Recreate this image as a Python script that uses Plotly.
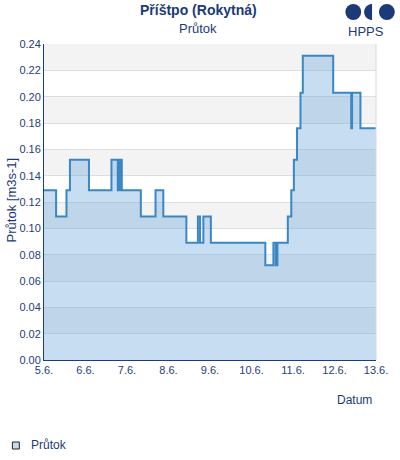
import numpy as np
import plotly.graph_objects as go

# ---- data ----
times = [
    "2024-06-05 00:00", "2024-06-05 07:00", "2024-06-05 13:00", "2024-06-05 15:00",
    "2024-06-06 02:00", "2024-06-06 15:00", "2024-06-06 18:40", "2024-06-06 19:50",
    "2024-06-06 21:00", "2024-06-07 08:00", "2024-06-07 16:30", "2024-06-07 21:00",
    "2024-06-08 10:20", "2024-06-08 17:00", "2024-06-08 18:15", "2024-06-08 20:10",
    "2024-06-09 00:30", "2024-06-10 08:00", "2024-06-10 12:40", "2024-06-10 14:00",
    "2024-06-10 15:00", "2024-06-10 21:00", "2024-06-10 23:00", "2024-06-11 00:30",
    "2024-06-11 02:20", "2024-06-11 04:20", "2024-06-11 05:40", "2024-06-11 23:15",
    "2024-06-12 09:40", "2024-06-12 10:10", "2024-06-12 15:00", "2024-06-13 19:00",
]
flow = [
    0.129, 0.109, 0.129, 0.152,
    0.129, 0.152, 0.129, 0.152,
    0.129, 0.109, 0.129, 0.109,
    0.089, 0.109, 0.089, 0.109,
    0.089, 0.072, 0.089, 0.072,
    0.089, 0.109, 0.129, 0.152,
    0.176, 0.203, 0.231, 0.203,
    0.176, 0.203, 0.176, 0.176,
]
tick_dates = ["2024-06-05", "2024-06-06", "2024-06-07", "2024-06-08", "2024-06-09",
              "2024-06-10", "2024-06-11", "2024-06-12", "2024-06-13"]
tick_labels = ["5.6.", "6.6.", "7.6.", "8.6.", "9.6.", "10.6.", "11.6.", "12.6.", "13.6."]
y_ticks = [0.00, 0.02, 0.04, 0.06, 0.08, 0.10, 0.12, 0.14, 0.16, 0.18, 0.20, 0.22, 0.24]

W, H = 400, 460
L, R, T, B = 44, 20, 44, 100
PW, PH = W - L - R, H - T - B

def px(x):
    return (x - L) / PW

def py(y):
    return (H - B - y) / PH

FONT = "Liberation Sans, Arial, sans-serif"
DARK = "#1c3a78"
TICK = "#25407e"

fig = go.Figure()
fig.add_trace(go.Scatter(
    x=times, y=flow, mode="lines", line_shape="hv",
    line=dict(color="#3a87c4", width=2),
    fill="tozeroy", fillcolor="rgba(100,160,220,0.36)",
    name="Průtok", showlegend=False, hoverinfo="skip",
))

shapes = []
# alternate bands
for i in range(1, 12, 2):
    shapes.append(dict(type="rect", xref="paper", yref="y", x0=0, x1=1,
                       y0=y_ticks[i], y1=y_ticks[i + 1],
                       fillcolor="#f3f3f3", line_width=0, layer="below"))
# right border
shapes.append(dict(type="line", xref="paper", yref="paper", x0=1, x1=1, y0=0, y1=1,
                   line=dict(color="#d8d8d8", width=1)))
# logo
shapes.append(dict(type="circle", xref="paper", yref="paper",
                   x0=px(349), x1=px(365), y0=py(20), y1=py(4),
                   fillcolor=DARK, line_width=0))
shapes.append(dict(type="circle", xref="paper", yref="paper",
                   x0=px(383), x1=px(399), y0=py(20), y1=py(4),
                   fillcolor=DARK, line_width=0))
ang = np.linspace(np.pi / 2, 3 * np.pi / 2, 20)
cx, cy, r = 376, 12, 8
pts = [(px(cx + r * np.cos(a)), py(cy - r * np.sin(a))) for a in ang]
path = "M " + " L ".join(f"{a:.5f},{b:.5f}" for a, b in pts) + " Z"
shapes.append(dict(type="path", xref="paper", yref="paper", path=path,
                   fillcolor=DARK, line_width=0))
# legend symbol
shapes.append(dict(type="rect", xref="paper", yref="paper",
                   x0=px(12), x1=px(19), y0=py(449), y1=py(442),
                   fillcolor="#c6ddf1", line=dict(color="#222222", width=1)))

annotations = [
    dict(text="<b>Příštpo (Rokytná)</b>", x=px(200), y=py(10), xref="paper", yref="paper",
         showarrow=False, font=dict(family=FONT, size=14, color=DARK),
         xanchor="center", yanchor="middle"),
    dict(text="Průtok", x=px(200), y=py(29), xref="paper", yref="paper",
         showarrow=False, font=dict(family=FONT, size=13, color=DARK),
         xanchor="center", yanchor="middle"),
    dict(text="HPPS", x=px(370), y=py(31), xref="paper", yref="paper",
         showarrow=False, font=dict(family=FONT, size=13, color=DARK),
         xanchor="center", yanchor="middle"),
    dict(text="Datum", x=px(378), y=py(400), xref="paper", yref="paper",
         showarrow=False, font=dict(family=FONT, size=12, color=DARK),
         xanchor="right", yanchor="middle"),
    dict(text="Průtok [m3s-1]", x=px(11), y=py(200), xref="paper", yref="paper",
         showarrow=False, textangle=-90, font=dict(family=FONT, size=13, color=DARK),
         xanchor="center", yanchor="middle"),
    dict(text="Průtok", x=px(29), y=py(445), xref="paper", yref="paper",
         showarrow=False, font=dict(family=FONT, size=12, color=DARK),
         xanchor="left", yanchor="middle"),
]

fig.update_layout(
    width=W, height=H,
    margin=dict(l=L, r=R, t=T, b=B, pad=0),
    paper_bgcolor="white", plot_bgcolor="white",
    showlegend=False,
    shapes=shapes, annotations=annotations,
    xaxis=dict(type="date", range=["2024-06-05", "2024-06-13"],
               tickvals=tick_dates, ticktext=tick_labels,
               showgrid=False, zeroline=False, showline=True,
               linecolor="#1c3a8a", linewidth=1, ticks="",
               tickfont=dict(family=FONT, size=11, color=TICK)),
    yaxis=dict(range=[0, 0.24], tickvals=y_ticks,
               ticktext=[f"{v:.2f}" for v in y_ticks],
               showgrid=True, gridcolor="#dedede", gridwidth=1,
               zeroline=False, showline=True, linecolor="#1c3a8a", linewidth=1,
               ticks="", ticklen=0,
               tickfont=dict(family=FONT, size=11, color=TICK)),
)

fig.write_html("out.html")
